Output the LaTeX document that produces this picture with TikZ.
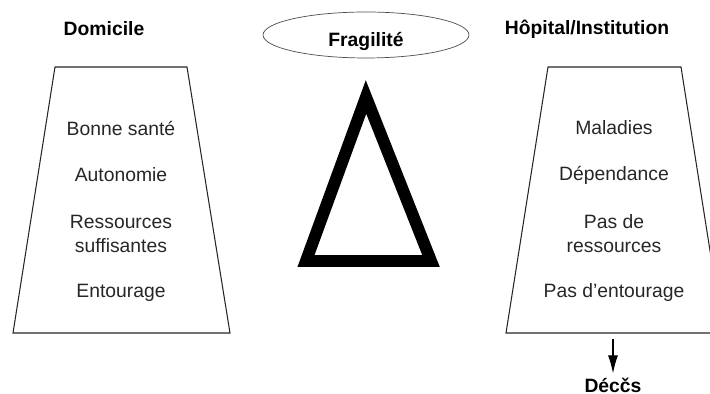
\documentclass[tikz,border=0pt]{standalone}
\usepackage{fontspec}
\setmainfont{Liberation Sans}
\usetikzlibrary{arrows.meta,positioning,shapes.geometric}
\tikzset{
  headtext/.style={
    font=\fontsize{11}{13}\selectfont\bfseries,
    inner sep=0pt
  },
  itemtext/.style={
    align=center,
    font=\fontsize{11}{13.6}\selectfont,
    text=black!85,
    inner sep=0pt
  },
  panel/.style={
    draw=black!85,
    line width=0.6pt,
    line join=miter
  },
  fragbox/.style={
    draw=black!70,
    ellipse,
    minimum width=4.12cm,
    minimum height=0.92cm,
    inner sep=0pt,
    text height=13pt,
    text depth=0pt,
    font=\fontsize{11}{13}\selectfont\bfseries
  },
  deltaline/.style={
    line width=6.8pt,
    line join=miter
  },
  deatharrow/.style={
    -{Latex[length=3.6mm,width=2mm]},
    line width=0.6pt
  }
}

\begin{document}
\begin{tikzpicture}[x=0.02cm,y=-0.02cm]
  \useasboundingbox (0,0) rectangle (710,394);
  \clip (0,0) rectangle (710,394);
  % home side
  \node[headtext] (domicile) at (104,29) {Domicile};
  \draw[panel] (55,67) -- (187,67) -- (230,333) -- (13,333) -- cycle;
  \node[itemtext] (sante) at (121,128) {Bonne santé};
  \node[itemtext] (autonomie) at (121,175) {Autonomie};
  \node[itemtext] (ressources) at (121,234) {Ressources\\suffisantes};
  \node[itemtext] (entourage) at (121,293) {Entourage};
  % frailty
  \node[fragbox] (fragilite) at (366,35) {Fragilité};
  \draw[deltaline] (366,97) -- (431,261) -- (306,261) -- cycle;
  % hospital side
  \node[headtext] (hopital) at (587,29) {Hôpital/Institution};
  \draw[panel] (548,67) -- (681,67) -- (723,333) -- (506,333) -- cycle;
  \node[itemtext] (maladies) at (614,128) {Maladies};
  \node[itemtext] (dependance) at (614,175) {Dépendance};
  \node[itemtext] (sansres) at (614,234) {Pas de\\ressources};
  \node[itemtext] (sansent) at (614,293) {Pas d’entourage};
  \coordinate (drop) at (613,339);
  \node[headtext] (deces) at (613,385) {Décčs};
  \draw[deatharrow, shorten >=0.8mm] (drop) -- (deces.north);
\end{tikzpicture}
\end{document}
